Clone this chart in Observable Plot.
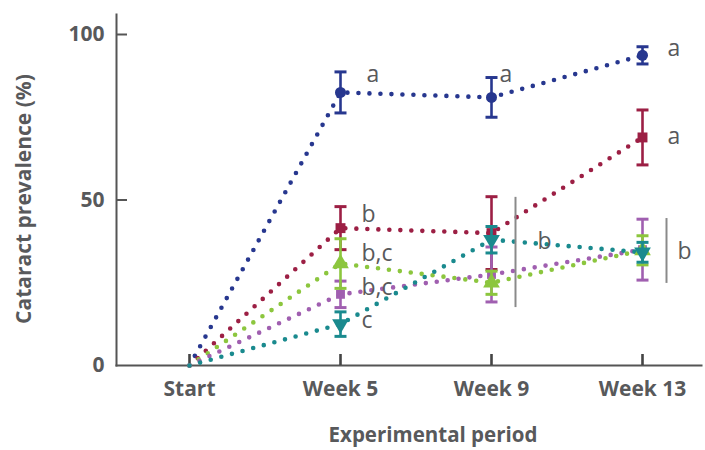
<!DOCTYPE html>
<html>
<head>
<meta charset="utf-8">
<script src="https://cdn.jsdelivr.net/npm/d3@7"></script>
<script src="https://cdn.jsdelivr.net/npm/@observablehq/plot@0.6"></script>
<style>
  html, body { margin: 0; padding: 0; background: #fff; }
  #chart svg { font-family: "Open Sans", Roboto, sans-serif; }
</style>
</head>
<body>
<div id="chart"></div>
<script>
// ---- data ----
const weeks = ["Start", "Week 5", "Week 9", "Week 13"];
const seriesNames = ["Group 1", "Group 2", "Group 3", "Group 4", "Group 5"];
const seriesValues = [
  [0, 82.5, 81.0, 93.7],   // blue
  [0, 41.5, 40.0, 68.9],   // red
  [0, 30.8, 25.0, 34.8],   // green
  [0, 21.5, 27.5, 35.0],   // purple
  [0, 12.5, 38.0, 34.2]    // teal
];
const seriesErrors = [
  [0, 6.2, 6.0, 2.6],
  [0, 6.5, 11.0, 8.3],
  [0, 7.5, 3.5, 4.4],
  [0, 4.0, 8.3, 9.2],
  [0, 3.7, 4.0, 3.0]
];
const yTicks = [0, 50, 100];
const labelTexts = ["a", "a", "a", "a", "b", "b,c", "b,c", "c", "b", "b"];
const labelWeeks = ["Week 5", "Week 9", "Week 13", "Week 13", "Week 5", "Week 5", "Week 5", "Week 5", "Week 9", "Week 13"];
const labelValues = [88, 88, 95.6, 69, 45.6, 33.8, 23.6, 13.6, 37.5, 34.4];
const bracketWeeks = ["Week 9", "Week 13"];
const bracketLow = [17.5, 24.8];
const bracketHigh = [50.8, 44.4];

// ---- styles ----
const colors = ["#27378f", "#9c1f44", "#8cc63e", "#a05fb0", "#1a8a8e"];
const symbols = ["circle", "square", "triangle", "square", "triangle"];
const symbolRotate = [0, 0, 0, 0, 180];
const symbolR = [5.5, 5.6, 6.2, 5.0, 6.2];
const drawOrder = [0, 1, 3, 2, 4];
const labelDx = [26, 8, 25, 25, 21, 21, 21, 21, 46, 35];
const textColor = "#58595b";

const rows = [];
seriesNames.forEach((s, si) => {
  weeks.forEach((w, wi) => {
    const v = seriesValues[si][wi], e = seriesErrors[si][wi];
    rows.push({series: s, si, week: w, value: v, lo: v - e, hi: v + e, err: e});
  });
});
const labels = labelTexts.map((t, i) => ({text: t, week: labelWeeks[i], value: labelValues[i], dx: labelDx[i]}));
const brackets = bracketWeeks.map((w, i) => ({week: w, lo: bracketLow[i], hi: bracketHigh[i]}));

const cap = {
  draw(context, size) {
    const r = Math.sqrt(size / Math.PI);
    context.moveTo(-r, 0);
    context.lineTo(r, 0);
  }
};

const seriesMarks = drawOrder.flatMap(si => {
  const d = rows.filter(r => r.si === si && r.err > 0);
  const c = colors[si];
  return [
    Plot.ruleX(d, {x: "week", y1: "lo", y2: "hi", stroke: c, strokeWidth: 2.6}),
    Plot.dot(d, {x: "week", y: "hi", symbol: cap, r: 6, stroke: c, strokeWidth: 3}),
    Plot.dot(d, {x: "week", y: "lo", symbol: cap, r: 6, stroke: c, strokeWidth: 3}),
    Plot.dot(d, {x: "week", y: "value", symbol: symbols[si], r: symbolR[si], fill: c, rotate: symbolRotate[si]})
  ];
});

const lineMarks = seriesNames.map((s, si) =>
  Plot.line(rows.filter(r => r.si === si), {
    x: "week", y: "value", stroke: colors[si], strokeWidth: 4.6,
    strokeDasharray: "0 11", strokeLinecap: "round"
  })
);

const plot = Plot.plot({
  width: 705,
  height: 450,
  marginLeft: 116,
  marginRight: 4,
  marginTop: 14,
  marginBottom: 85,
  x: {type: "point", domain: weeks, range: [188, 643], padding: 0},
  y: {domain: [0, 100], range: [365, 34]},
  style: {color: textColor, background: "#fff"},
  marks: [
    Plot.frame({anchor: "left", stroke: "#555", strokeWidth: 2}),
    Plot.frame({anchor: "bottom", stroke: "#555", strokeWidth: 2}),
    Plot.axisY([50, 100], {tickSize: -11, fill: "none", label: null, stroke: "#555", strokeWidth: 2}),
    Plot.axisY(yTicks, {tickSize: 0, tickPadding: 12, fontSize: 21, fontWeight: 700, fill: textColor, label: null}),
    Plot.axisX({tickSize: -11, fill: "none", label: null, stroke: "#444", strokeWidth: 2.6}),
    Plot.axisX({tickSize: 0, tickPadding: 16, fontSize: 21, fontWeight: 700, fill: textColor, label: null}),
    Plot.text(["Cataract prevalence (%)"], {frameAnchor: "left", textAnchor: "middle", rotate: -90, dx: -92, dy: 9, fontSize: 21, fontWeight: 700, fill: textColor}),
    Plot.text(["Experimental period"], {frameAnchor: "bottom", textAnchor: "middle", dx: 24, dy: 76, fontSize: 20.5, fontWeight: 700, fill: textColor}),
    ...lineMarks,
    ...seriesMarks,
    Plot.ruleX(brackets, {x: "week", y1: "lo", y2: "hi", dx: 24, stroke: "#8a8a8a", strokeWidth: 2}),
    ...labels.map(l => Plot.text([l], {x: "week", y: "value", text: "text", dx: l.dx, textAnchor: "start", fontSize: 23, fill: textColor}))
  ]
});
document.getElementById("chart").appendChild(plot);
</script>
</body>
</html>
